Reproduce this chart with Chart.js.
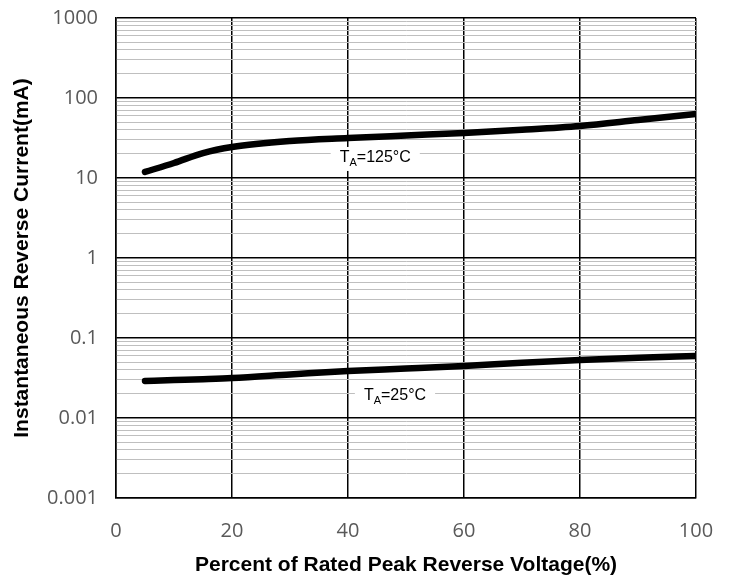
<!DOCTYPE html>
<html>
<head>
<meta charset="utf-8">
<script src="https://cdn.jsdelivr.net/npm/chart.js@4.4.0/dist/chart.umd.min.js"></script>
<style>
  html, body { margin: 0; padding: 0; background: #fff; }
  #wrap { width: 734px; height: 580px; }
</style>
</head>
<body>
<div id="wrap"><canvas id="myChart"></canvas></div>
<script>
// readings
const voltagePct = [5, 10, 15, 20, 30, 40, 50, 60, 70, 80, 90, 100];
const current125 = [11.9, 15.4, 20.5, 24.4, 29, 31.6, 34, 36.5, 40, 44.7, 53, 63];
const current25 = [0.029, 0.0298, 0.0306, 0.0316, 0.035, 0.0387, 0.0415, 0.0447, 0.049, 0.053, 0.0565, 0.0596];
const decades = [-3, -2, -1, 0, 1, 2];
const xTicks = [0, 20, 40, 60, 80, 100];

// curve labels: [x, y, main text, subscript, rest]
const curveLabels = [
  [44.7, 17.8, 'T', 'A', '=125\u00B0C'],
  [48.1, 0.0188, 'T', 'A', '=25\u00B0C']
];

const isDecade = (v) => Math.abs(Math.log10(v) - Math.round(Math.log10(v))) < 1e-9;

const labelPlugin = {
  id: 'curveLabels',
  afterDatasetsDraw(chart) {
    const ctx = chart.ctx;
    const xs = chart.scales.x, ys = chart.scales.y;
    ctx.save();
    curveLabels.forEach(([lx, ly, t, sub, rest]) => {
      const px = xs.getPixelForValue(lx);
      const py = ys.getPixelForValue(ly);
      ctx.font = '16px "Liberation Sans", Arial';
      const w1 = ctx.measureText(t).width;
      const w3 = ctx.measureText(rest).width;
      ctx.font = '11px "Liberation Sans", Arial';
      const w2 = ctx.measureText(sub).width;
      const total = w1 + w2 + w3;
      ctx.fillStyle = '#fff';
      ctx.fillRect(px - total / 2 - 9, py - 11, total + 18, 24);
      let x0 = px - total / 2;
      ctx.fillStyle = '#000';
      ctx.textBaseline = 'middle';
      ctx.textAlign = 'left';
      ctx.font = '16px "Liberation Sans", Arial';
      ctx.fillText(t, x0, py);
      ctx.font = '11px "Liberation Sans", Arial';
      ctx.fillText(sub, x0 + w1, py + 5);
      ctx.font = '16px "Liberation Sans", Arial';
      ctx.fillText(rest, x0 + w1 + w2, py);
    });
    ctx.restore();
  }
};

const chartContext = document.getElementById('myChart').getContext('2d');
const myChart = new Chart(chartContext, {
  type: 'line',
  data: {
    datasets: [
      {
        data: voltagePct.map((v, i) => ({ x: v, y: current125[i] })),
        borderColor: '#000',
        borderWidth: 6.5,
        pointRadius: 0,
        cubicInterpolationMode: 'monotone',
        borderCapStyle: 'round'
      },
      {
        data: voltagePct.map((v, i) => ({ x: v, y: current25[i] })),
        borderColor: '#000',
        borderWidth: 6.5,
        pointRadius: 0,
        cubicInterpolationMode: 'monotone',
        borderCapStyle: 'round'
      }
    ]
  },
  options: {
    responsive: true,
    maintainAspectRatio: false,
    animation: false,
    layout: { padding: { top: 18, right: 38, left: 0, bottom: 0 } },
    plugins: { legend: { display: false }, tooltip: { enabled: false } },
    scales: {
      x: {
        type: 'linear',
        min: 0,
        max: 100,
        afterBuildTicks(scale) { scale.ticks = xTicks.map(v => ({ value: v })); },
        afterFit(scale) {
          scale.height = 82;
          scale.paddingLeft = 0;
          scale.paddingRight = 0;
        },
        grid: { color: '#000', lineWidth: 1.5, drawTicks: false },
        border: { color: '#000', width: 1.5 },
        ticks: { padding: 21, color: '#595959', font: { family: '"Open Sans", Lato', size: 20 } },
        title: {
          display: true,
          text: 'Percent of Rated Peak Reverse Voltage(%)',
          color: '#000',
          font: { family: '"Liberation Sans", Arial', size: 21, weight: 'bold' },
          padding: { top: 0, bottom: 2 }
        }
      },
      y: {
        type: 'logarithmic',
        min: 0.001,
        max: 1000,
        afterBuildTicks(scale) {
          const t = [];
          decades.forEach(d => {
            for (let m = 1; m <= 9; m++) t.push({ value: m * Math.pow(10, d) });
          });
          t.push({ value: 1000 });
          scale.ticks = t;
        },
        afterFit(scale) {
          scale.width = 116;
          scale.paddingTop = 0;
          scale.paddingBottom = 0;
        },
        grid: {
          drawTicks: false,
          color: (c) => isDecade(c.tick.value) ? '#000' : '#bfbfbf',
          lineWidth: (c) => isDecade(c.tick.value) ? 1.5 : 1
        },
        border: { color: '#000', width: 1.5 },
        ticks: {
          autoSkip: false,
          padding: 18,
          color: '#595959',
          font: { family: '"Open Sans", Lato', size: 20 },
          callback: (v) => isDecade(v) ? String(Number(v.toPrecision(1))) : ''
        },
        title: {
          display: true,
          text: 'Instantaneous Reverse Current(mA)',
          color: '#000',
          font: { family: '"Liberation Sans", Arial', size: 21, weight: 'bold' },
          padding: { top: 10, bottom: 4 }
        }
      }
    }
  },
  plugins: [labelPlugin]
});
</script>
</body>
</html>
